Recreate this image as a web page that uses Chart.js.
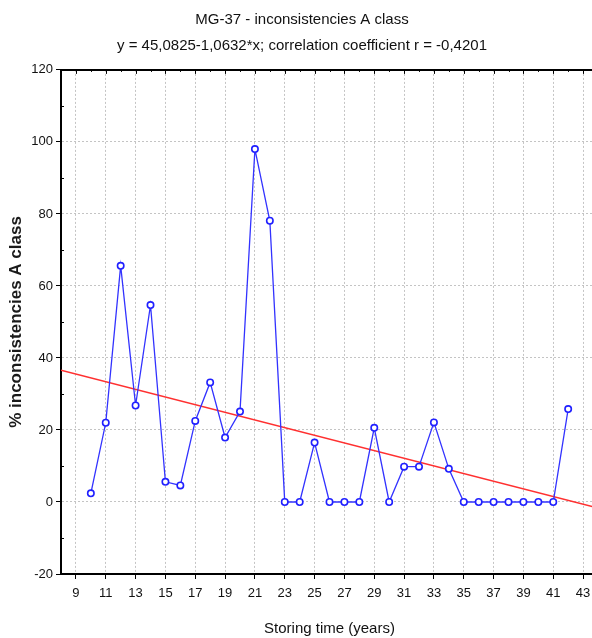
<!DOCTYPE html>
<html>
<head>
<meta charset="utf-8">
<script src="https://cdn.jsdelivr.net/npm/chart.js@4"></script>
<style>
  html, body { margin: 0; padding: 0; background: #fff; overflow: hidden; }
  #wrap { width: 610px; height: 638px; }
</style>
</head>
<body>
<div id="wrap"><canvas id="chart" width="610" height="638"></canvas></div>
<script>
// Storage time (years) and share of class A inconsistencies (%)
const years = [10, 11, 12, 13, 14, 15, 16, 17, 18, 19, 20, 21, 22, 23, 24, 25, 26,
               27, 28, 29, 30, 31, 32, 33, 34, 35, 36, 37, 38, 39, 40, 41, 42];
const inconsistencyPct = [2.4, 22.0, 65.6, 26.8, 54.7, 5.6, 4.6, 22.5, 33.2, 17.9, 25.1,
                          98.0, 78.1, 0, 0, 16.5, 0, 0, 0, 20.6, 0, 9.8, 9.8, 22.1, 9.2,
                          0, 0, 0, 0, 0, 0, 0, 25.8];

// Fitted line y = a + b*x
const fitIntercept = 45.0825;
const fitSlope = -1.0632;
const fitRange = [8, 44];

const xTicks = [9, 11, 13, 15, 17, 19, 21, 23, 25, 27, 29, 31, 33, 35, 37, 39, 41, 43];
const yTicks = [-20, 0, 20, 40, 60, 80, 100, 120];

const titleLines = [
    'MG-37 - inconsistencies A class',
    'y = 45,0825-1,0632*x; correlation coefficient r = -0,4201'
];

const FONT = "'Liberation Sans', Arial, sans-serif";

const seriesPoints = years.map((x, i) => ({ x, y: inconsistencyPct[i] }));
const fitPoints = fitRange.map(x => ({ x, y: fitIntercept + fitSlope * x }));

// Top frame line plus the small minor tick marks
const framePlugin = {
    id: 'frame',
    afterDatasetsDraw(chart) {
        const { ctx, chartArea: a, scales: { x, y } } = chart;
        ctx.save();
        ctx.strokeStyle = '#000';
        ctx.lineWidth = 2;
        ctx.beginPath();
        ctx.moveTo(a.left, a.top);
        ctx.lineTo(a.right + 20, a.top);
        ctx.stroke();

        ctx.lineWidth = 1;
        ctx.beginPath();
        for (let v = Math.ceil(x.min); v <= x.max; v++) {
            const px = Math.round(x.getPixelForValue(v)) + 0.5;
            const len = v % 2 ? 4 : 2;
            ctx.moveTo(px, a.top);
            ctx.lineTo(px, a.top + len);
        }
        for (let v = y.min + 10; v < y.max; v += 20) {
            const py = Math.round(y.getPixelForValue(v)) + 0.5;
            ctx.moveTo(a.left, py);
            ctx.lineTo(a.left + 3, py);
        }
        ctx.stroke();
        ctx.restore();
    }
};

new Chart(document.getElementById('chart'), {
    type: 'scatter',
    data: {
        datasets: [
            {
                label: 'inconsistencies',
                data: seriesPoints,
                showLine: true,
                borderColor: '#3232ff',
                borderWidth: 1.3,
                pointRadius: 3.2,
                pointBorderWidth: 1.6,
                pointBackgroundColor: '#ffffff',
                pointBorderColor: '#2020ff',
                order: 1
            },
            {
                label: 'fit',
                data: fitPoints,
                showLine: true,
                borderColor: '#ff3030',
                borderWidth: 1.5,
                pointRadius: 0,
                order: 2
            }
        ]
    },
    options: {
        responsive: false,
        animation: false,
        devicePixelRatio: 1,
        layout: { padding: { left: 6, right: 12, top: 0, bottom: 0 } },
        plugins: {
            legend: { display: false },
            tooltip: { enabled: false },
            title: {
                display: true,
                text: titleLines,
                color: '#111',
                font: { family: FONT, size: 15, weight: 'normal', lineHeight: 1.73 },
                padding: { top: 7, bottom: 11 }
            }
        },
        scales: {
            x: {
                type: 'linear',
                min: fitRange[0],
                max: fitRange[1],
                afterBuildTicks: (scale) => { scale.ticks = xTicks.map(v => ({ value: v })); },
                afterFit: (scale) => { scale.height = 64; },
                grid: {
                    color: '#c4c4c4',
                    lineWidth: 1,
                    tickLength: 5,
                    tickColor: '#000',
                    tickBorderDash: []
                },
                border: { display: true, color: '#000', width: 2, dash: [2, 2] },
                ticks: {
                    color: '#111',
                    padding: 7,
                    maxRotation: 0,
                    autoSkip: false,
                    font: { family: FONT, size: 13 }
                },
                title: {
                    display: true,
                    text: 'Storing time (years)',
                    color: '#111',
                    padding: 0,
                    font: { family: FONT, size: 15 }
                }
            },
            y: {
                min: yTicks[0],
                max: yTicks[yTicks.length - 1],
                afterBuildTicks: (scale) => { scale.ticks = yTicks.map(v => ({ value: v })); },
                afterFit: (scale) => { scale.width = 55; },
                grid: {
                    color: '#c4c4c4',
                    lineWidth: 1,
                    tickLength: 5,
                    tickColor: '#000',
                    tickBorderDash: []
                },
                border: { display: true, color: '#000', width: 2, dash: [2, 2] },
                ticks: {
                    color: '#111',
                    padding: 3,
                    font: { family: FONT, size: 13 }
                },
                title: {
                    display: true,
                    text: '% inconsistencies A class',
                    color: '#1a1a1a',
                    padding: 0,
                    font: { family: FONT, size: 17, weight: 'bold' }
                }
            }
        }
    },
    plugins: [framePlugin]
});
</script>
</body>
</html>
